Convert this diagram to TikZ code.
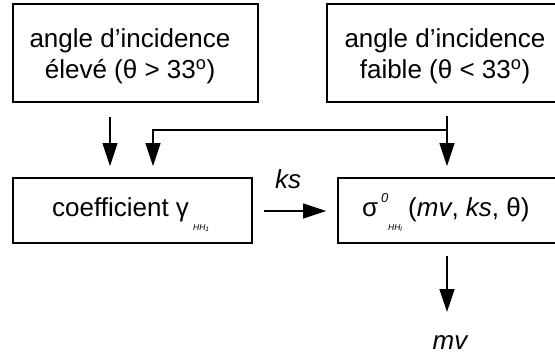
\documentclass[tikz,border=0pt]{standalone}
\usepackage{fontspec}
\setmainfont{Liberation Sans}
\usetikzlibrary{arrows.meta}
\begin{document}
\begin{tikzpicture}[x=1pt,y=-1pt,
  box/.style={draw,line width=1.8pt,inner sep=0pt},
  txt/.style={inner sep=0pt,align=center,font=\fontsize{26}{31}\selectfont},
  arr/.style={line width=1.5pt,-{Triangle[length=23pt,width=15pt]}},
  lbl/.style={inner sep=0pt,anchor=base,font=\fontsize{26}{31}\selectfont\itshape},
  sub/.style={inner sep=0pt,anchor=base west,font=\fontsize{8.5}{8.5}\selectfont\itshape},
  sup/.style={inner sep=0pt,anchor=base west,font=\fontsize{13}{13}\selectfont\itshape}]
\useasboundingbox (0,0) rectangle (555,356);
\begin{scope}
\clip (0,0) rectangle (555,356);
\node[box,minimum width=245pt,minimum height=98pt] (b1) at (135.5,53) {};
\node[box,minimum width=230pt,minimum height=98pt] (b2) at (442,53) {};
\node[box,minimum width=239pt,minimum height=65pt] (b3) at (132.5,210.5) {};
\node[box,minimum width=219pt,minimum height=65pt] (b4) at (447.5,210.5) {};
\end{scope}
\node[txt] (t1) at (130,56) {angle d’incidence\\élevé (θ > 33\textsuperscript{o})};
\node[txt] (t2) at (445,56) {angle d’incidence\\faible (θ < 33\textsuperscript{o})};
\node[txt,anchor=base west] (t3) at (52,216) {coefficient γ};
\node[sub] (s3) at (193,230) {HH\raisebox{-1pt}{\fontsize{6.5}{6.5}\selectfont 1}};
\node[txt,anchor=base west] (t4a) at (362,216) {σ};
\node[sup] (p4) at (381,202) {0};
\node[sub] (s4) at (388,230) {HH\raisebox{-1pt}{\fontsize{6.5}{6.5}\selectfont l}};
\node[txt,anchor=base west] (t4b) at (408,216) {(\textit{mv}, \textit{ks}, θ)};
\coordinate (a1s) at (110,117);
\coordinate (a2s) at (447,116);
\coordinate (j) at (447,130);
\coordinate (k) at (153,130);
\coordinate (m) at (447,312);
\draw[arr,shorten >=11pt] (a1s) -- (b3.north -| a1s);
\draw[arr,shorten >=11pt] (a2s) -- (b4.north -| a2s);
\draw[arr,shorten >=11pt] (j) -- (k) -- (b3.north -| k);
\draw[arr,shorten <=11pt,shorten >=11pt] (b3.east |- 0,211) -- (b4.west |- 0,211);
\draw[arr,shorten <=12pt] (b4.south -| m) -- (m);
\node[lbl] (ks) at (288,188) {ks};
\node[lbl] (mv) at (450,349) {mv};
\end{tikzpicture}
\end{document}
